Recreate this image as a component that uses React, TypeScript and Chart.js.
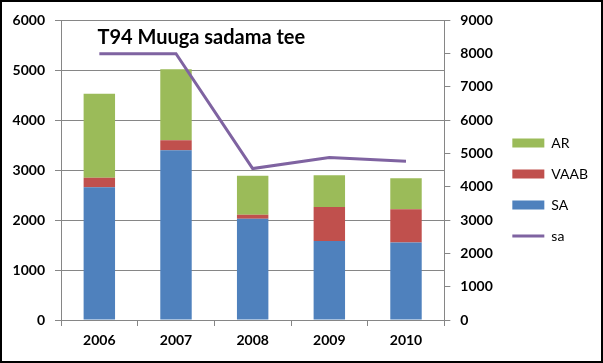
import React, { useEffect, useRef } from 'react';
import { Chart, registerables } from 'chart.js';

Chart.register(...registerables);

const categories = ['2006', '2007', '2008', '2009', '2010'];
const saValues = [2660, 3400, 2030, 1580, 1550];
const vaabValues = [190, 200, 80, 685, 670];
const arValues = [1680, 1420, 780, 635, 620];
const saLineValues = [8000, 8000, 4550, 4880, 4770];
const titleText = 'T94 Muuga sadama tee';

const GREEN = '#9BBB59';
const RED = '#C0504D';
const BLUE = '#4F81BD';
const PURPLE = '#7F63A1';
const GRID = '#868686';
const FONT = 'Lato, "Open Sans", sans-serif';

const plainTick = (v: any) => String(v);

const titlePlugin = {
  id: 'innerTitle',
  afterDatasetsDraw(chart: any) {
    const { ctx, chartArea } = chart;
    ctx.save();
    ctx.font = `bold 20px ${FONT}`;
    ctx.fillStyle = '#000';
    ctx.textAlign = 'center';
    ctx.textBaseline = 'middle';
    const x = chartArea.left + (chartArea.right - chartArea.left) * 0.366;
    const y = chartArea.top + 17;
    ctx.fillText(titleText, x, y);
    ctx.restore();
  },
};

export default function App() {
  const ref = useRef<HTMLCanvasElement | null>(null);

  useEffect(() => {
    if (!ref.current) return;
    const chart = new Chart(ref.current, {
      type: 'bar',
      data: {
        labels: categories,
        datasets: [
          {
            type: 'line',
            label: 'sa',
            data: saLineValues,
            yAxisID: 'y1',
            borderColor: PURPLE,
            backgroundColor: PURPLE,
            borderWidth: 3,
            pointRadius: 0,
            pointHoverRadius: 0,
            pointStyle: 'line',
            pointBorderColor: PURPLE,
            pointBorderWidth: 3,
            tension: 0,
            fill: false,
          } as any,
          {
            label: 'SA',
            data: saValues,
            backgroundColor: BLUE,
            yAxisID: 'y',
            stack: 's',
            pointStyle: 'rect',
          } as any,
          {
            label: 'VAAB',
            data: vaabValues,
            backgroundColor: RED,
            yAxisID: 'y',
            stack: 's',
            pointStyle: 'rect',
          } as any,
          {
            label: 'AR',
            data: arValues,
            backgroundColor: GREEN,
            yAxisID: 'y',
            stack: 's',
            pointStyle: 'rect',
          } as any,
        ],
      },
      options: {
        animation: false,
        responsive: false,
        maintainAspectRatio: false,
        layout: { padding: { top: 16, right: 7, left: 0, bottom: 0 } },
        datasets: {
          bar: { barPercentage: 0.41, categoryPercentage: 1 },
        },
        plugins: {
          tooltip: { enabled: false },
          title: { display: false },
          legend: {
            position: 'right',
            reverse: true,
            labels: {
              usePointStyle: true,
              pointStyleWidth: 32,
              boxHeight: 9,
              boxWidth: 32,
              padding: 17,
              color: '#000',
              font: { family: FONT, size: 14 },
              generateLabels(chart: any) {
                const items = (Chart.defaults.plugins.legend.labels as any).generateLabels(chart);
                items.forEach((it: any) => {
                  if (it.text === 'sa') {
                    it.pointStyle = 'line';
                    it.strokeStyle = PURPLE;
                    it.lineWidth = 3;
                  } else {
                    it.pointStyle = 'rect';
                    it.lineWidth = 0;
                  }
                });
                return items;
              },
            },
          },
        },
        scales: {
          x: {
            stacked: true,
            offset: true,
            grid: {
              display: true,
              drawOnChartArea: false,
              offset: true,
              color: GRID,
              tickLength: 6,
            },
            border: { color: GRID },
            ticks: { color: '#000', padding: 6, font: { family: FONT, size: 14, weight: 'bold' } },
            afterFit(scale: any) {
              scale.height = 41;
            },
          },
          y: {
            stacked: true,
            position: 'left',
            min: 0,
            max: 6000,
            ticks: {
              stepSize: 1000,
              callback: plainTick,
              color: '#000',
              padding: 10,
              font: { family: FONT, size: 14, weight: 'bold' },
            },
            grid: { color: GRID, tickLength: 6 },
            border: { color: GRID },
            afterFit(scale: any) {
              scale.width = 59;
            },
          },
          y1: {
            position: 'right',
            min: 0,
            max: 9000,
            ticks: {
              stepSize: 1000,
              callback: plainTick,
              color: '#000',
              padding: 10,
              font: { family: FONT, size: 14, weight: 'bold' },
            },
            grid: { color: GRID, tickLength: 6, drawOnChartArea: false },
            border: { color: GRID },
            afterFit(scale: any) {
              scale.width = 51;
            },
          },
        },
      },
      plugins: [titlePlugin],
    } as any);
    return () => chart.destroy();
  }, []);

  return (
    <div
      style={{
        position: 'fixed',
        left: 0,
        top: 0,
        width: 603,
        height: 363,
        boxSizing: 'border-box',
        border: '2px solid #000',
        background: '#fff',
      }}
    >
      <canvas ref={ref} width={599} height={359} style={{ display: 'block', width: 599, height: 359 }} />
    </div>
  );
}
